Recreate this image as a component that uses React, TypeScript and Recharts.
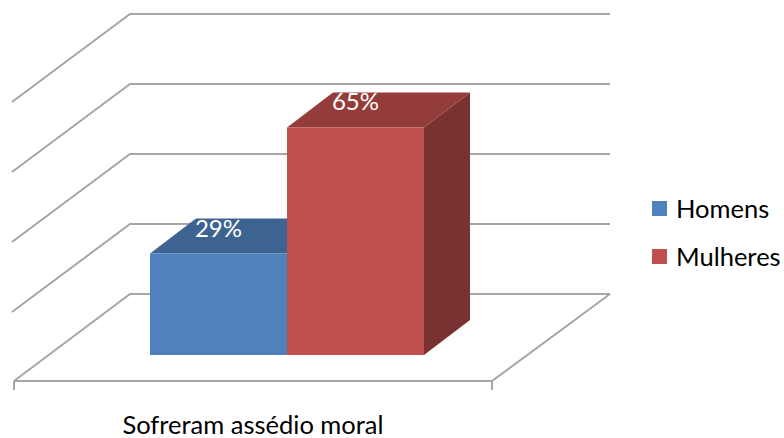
import React from "react";
import { BarChart, Bar, XAxis, YAxis, CartesianGrid, Legend, LabelList } from "recharts";

const categories = ["Sofreram assédio moral"];
const homens = [29];
const mulheres = [65];
const valueTicks = [0, 20, 40, 60, 80];

const chartData = categories.map((name, i) => ({
  name,
  Homens: homens[i],
  Mulheres: mulheres[i],
}));

const FONT = "Lato, sans-serif";
const GRID = "#a6a6a6";

// Excel style 3D bar: front face plus top and side faces pushed back
const Bar3D = (props: any) => {
  const { x, y, width, height, fill, topFill, sideFill } = props;
  const dx = 46;
  const dy = 35;
  const r = x + width;
  const b = y + height;
  return (
    <g>
      <polygon points={`${r},${y} ${r + dx},${y - dy} ${r + dx},${b - dy} ${r},${b}`} fill={sideFill} />
      <polygon points={`${x},${y} ${x + dx},${y - dy} ${r + dx},${y - dy} ${r},${y}`} fill={topFill} />
      <rect x={x} y={y} width={width} height={height} fill={fill} />
    </g>
  );
};

// wall + side wall line for each value, the zero line closes the floor too
const GridLine3D = (props: any) => {
  const { x1, x2, y1 } = props;
  const backY = y1 - 61;
  const isFloor = Math.abs(y1 - 355) < 1;
  const left = isFloor ? x1 : x1 - 2;
  const leftY = y1 + (isFloor ? 26 : 27);
  return (
    <g key={y1} fill="none" stroke={GRID} strokeWidth={2}>
      <polyline points={`${left},${leftY} ${x1 + 116},${backY} ${x2 + 118},${backY}`} />
      {isFloor && (
        <>
          <polyline points={`${x1},${leftY} ${x2},${leftY} ${x2 + 118},${backY}`} />
          <line x1={x1} y1={leftY} x2={x1} y2={leftY + 9} />
          <line x1={x2} y1={leftY} x2={x2} y2={leftY + 9} />
        </>
      )}
    </g>
  );
};

const CategoryTick = (props: any) => {
  const { x, payload } = props;
  return (
    <text x={x - 34} y={434} textAnchor="middle" fontFamily={FONT} fontSize={25.5} fill="#000">
      {payload.value}
    </text>
  );
};

const LegendBox = ({ payload }: any) => (
  <div>
    {payload?.map((entry: any) => (
      <div
        key={entry.value}
        style={{ display: "flex", alignItems: "center", height: 48, fontFamily: FONT, fontSize: 25.5, color: "#000" }}
      >
        <span style={{ display: "inline-block", width: 15, height: 15, marginRight: 9, background: entry.color }} />
        {entry.value}
      </div>
    ))}
  </div>
);

export default function App() {
  return (
    <div style={{ position: "absolute", left: 0, top: 0, width: 784, height: 438, background: "#fff" }}>
      <BarChart
        width={784}
        height={438}
        data={chartData}
        margin={{ top: 75, right: 160, left: 14, bottom: 0 }}
        barGap={0}
        barCategoryGap={68}
      >
        <CartesianGrid vertical={false} horizontal={(p: any) => <GridLine3D {...p} />} horizontalValues={valueTicks} />
        <XAxis
          dataKey="name"
          padding={{ left: 68, right: 0 }}
          axisLine={false}
          tickLine={false}
          height={83}
          tick={(p: any) => <CategoryTick {...p} />}
        />
        <YAxis hide domain={[0, 80]} ticks={valueTicks} />
        <Legend
          content={<LegendBox />}
          layout="vertical"
          align="right"
          verticalAlign="middle"
          wrapperStyle={{ left: 652, top: 184, width: 132 }}
        />
        <Bar
          dataKey="Homens"
          fill="#4f81bd"
          isAnimationActive={false}
          shape={(p: any) => <Bar3D {...p} fill="#4f81bd" topFill="#3d6491" sideFill="#2f4f74" />}
        >
          <LabelList
            dataKey="Homens"
            position="top"
            offset={17}
            formatter={(v: any) => `${v}%`}
            fill="#fff"
            fontFamily={FONT}
            fontSize={24}
          />
        </Bar>
        <Bar
          dataKey="Mulheres"
          fill="#c0504d"
          isAnimationActive={false}
          shape={(p: any) => <Bar3D {...p} fill="#c0504d" topFill="#943c3a" sideFill="#7a3230" />}
        >
          <LabelList
            dataKey="Mulheres"
            position="top"
            offset={18}
            formatter={(v: any) => `${v}%`}
            fill="#fff"
            fontFamily={FONT}
            fontSize={24}
          />
        </Bar>
      </BarChart>
    </div>
  );
}
